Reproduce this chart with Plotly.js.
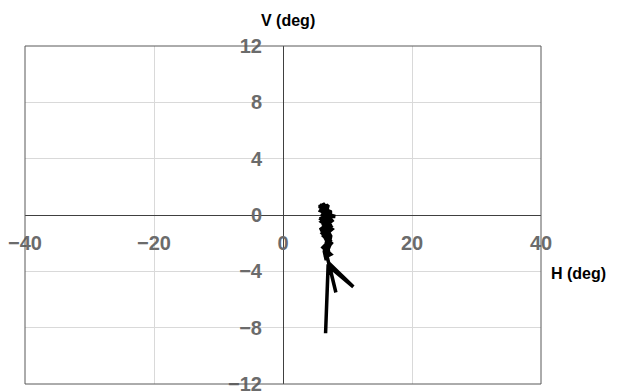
<!DOCTYPE html>
<html><head><meta charset="utf-8">
<script src="https://cdn.plot.ly/plotly-3.0.1.min.js"></script>
<style>html,body{margin:0;padding:0;background:#fff}#c{width:620px;height:392px}</style>
</head><body><div id="c"></div>
<script>
// Eye position trace (degrees)
const H = [7.0, 6.6, 7.0, 10.9, 7.1, 8.2, 7.0, 6.6, 7.5, 6.3, 7.6, 6.0, 7.6, 8.1, 7.3, 5.8, 6.5, 5.6, 7.2, 5.9, 7.4, 6.1, 7.3, 6.2, 7.4, 6.5, 7.2, 5.9, 7.6, 6.0, 7.0, 6.3, 7.4, 6.7, 6.4, 7.1,
           6.2, 6.9, 6.0, 7.1, 5.9, 6.8, 5.7, 6.6, 6.1, 7.0, 6.3, 7.2, 6.5, 7.0, 6.4, 6.9, 6.6, 7.1, 6.8, 6.4, 7.3, 6.2, 7.5, 6.0, 7.7];
const V = [-3.5, -8.4, -3.6, -5.1, -3.4, -5.5, -3.3, -2.5, -2.0, -1.5, -1.0, -0.5, -0.1, -0.1, 0.0, 0.3, 0.8, 0.6, 0.2, -0.3, -0.8, -1.3, -1.8, -2.3, -2.8, -3.0, -2.2, -1.0, -0.4, 0.5, 0.7, -0.6, -1.5, -3.2, -2.6, -1.2,
           -0.9, -0.6, -0.2, 0.1, 0.4, 0.6, 0.7, 0.4, 0.0, -0.4, -0.7, -1.1, -1.6, -2.0, -2.4, -2.9, -3.1, -2.7, -1.9, -1.4, -0.7, -0.2, 0.2, 0.5, -0.2];
const xTicks = [-40, -20, 0, 20, 40];
const yTicks = [-12, -8, -4, 0, 4, 8, 12];
const xTitle = "H (deg)";
const yTitle = "V (deg)";

const tickFont = {family: "Liberation Sans, Arial, sans-serif", size: 20, color: "#6b6b6b", weight: "bold"};
const titleFont = {family: "Liberation Sans, Arial, sans-serif", size: 16, color: "#000", weight: "bold"};
const data = [{
  x: H, y: V, type: "scatter", mode: "lines",
  line: {color: "#000", width: 3.5}, hoverinfo: "none"
}];
const layout = {
  width: 620, height: 392,
  margin: {l: 25, r: 79, t: 46, b: 8},
  paper_bgcolor: "#fff", plot_bgcolor: "#fff",
  showlegend: false,
  xaxis: {
    range: [-40, 40], tickvals: xTicks, ticktext: xTicks.map(v => v < 0 ? "\u2212" + Math.abs(v) : String(v)),
    anchor: "free", position: 0.5,
    showgrid: true, gridcolor: "#d9d9d9", gridwidth: 1,
    zeroline: true, zerolinecolor: "#404040", zerolinewidth: 1,
    showline: false, ticks: "outside", ticklen: 10, tickcolor: "rgba(0,0,0,0)",
    tickfont: tickFont, fixedrange: true, ticklabeloverflow: "allow"
  },
  yaxis: {
    range: [-12, 12], tickvals: yTicks, ticktext: yTicks.map(v => v < 0 ? "\u2212" + Math.abs(v) : String(v)),
    anchor: "free", position: 0.5,
    showgrid: true, gridcolor: "#d9d9d9", gridwidth: 1,
    zeroline: true, zerolinecolor: "#404040", zerolinewidth: 1,
    showline: false, ticks: "outside", ticklen: 17, tickcolor: "rgba(0,0,0,0)",
    tickfont: tickFont, fixedrange: true, ticklabeloverflow: "allow"
  },
  shapes: [{type: "rect", xref: "paper", yref: "paper", x0: 0, x1: 1, y0: 0, y1: 1,
            line: {color: "#595959", width: 1}, layer: "above"}],
  annotations: [
    {text: yTitle, xref: "paper", yref: "paper", x: 0.5, y: 1, yshift: 36, xshift: 5, showarrow: false, font: titleFont},
    {text: xTitle, xref: "paper", yref: "paper", x: 1, y: 0.5, xshift: 67, yshift: -58, showarrow: false, font: titleFont}
  ]
};
Plotly.newPlot("c", data, layout, {displayModeBar: false, staticPlot: true});
</script></body></html>
